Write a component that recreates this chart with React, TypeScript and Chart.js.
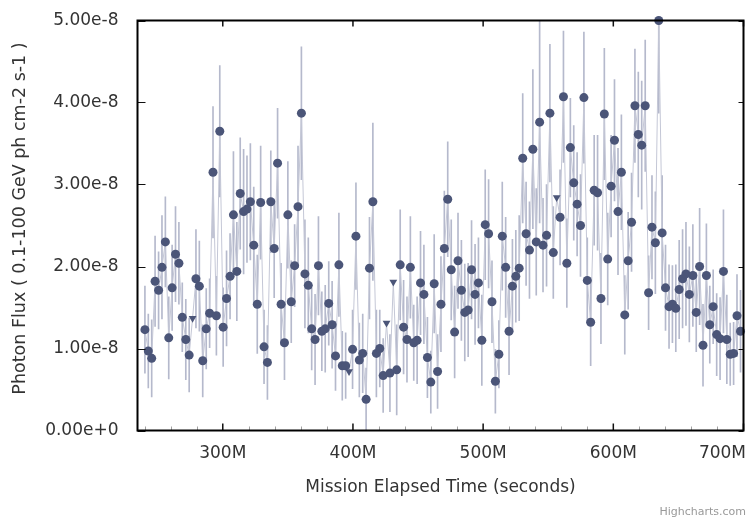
import React, { useEffect, useRef } from 'react';
import { Chart, registerables } from 'chart.js';

Chart.register(...registerables);

// Mission elapsed time of each monthly bin (millions of seconds)
const metMillions = [
  240.2, 242.8, 245.4, 248.0, 250.7, 253.3, 255.9, 258.5, 261.1, 263.7,
  266.3, 268.9, 271.6, 274.2, 276.8, 279.4, 282.0, 284.6, 287.3, 289.9,
  292.5, 295.1, 297.7, 300.3, 302.9, 305.6, 308.2, 310.8, 313.4, 316.0,
  318.6, 321.2, 323.8, 326.5, 329.1, 331.7, 334.3, 336.9, 339.5, 342.1,
  344.8, 347.4, 350.0, 352.6, 355.2, 357.8, 360.4, 363.1, 365.7, 368.3,
  370.9, 373.5, 376.1, 378.7, 381.4, 384.0, 386.6, 389.2, 391.8, 394.4,
  397.0, 399.7, 402.3, 404.9, 407.5, 410.1, 412.7, 415.3, 418.0, 420.6,
  423.2, 425.8, 428.4, 431.0, 433.6, 436.3, 438.9, 441.5, 444.1, 446.7,
  449.3, 451.9, 454.5, 457.2, 459.8, 462.4, 465.0, 467.6, 470.2, 472.8,
  475.5, 478.1, 480.7, 483.3, 485.9, 488.5, 491.1, 493.8, 496.4, 499.0,
  501.6, 504.2, 506.8, 509.4, 512.1, 514.7, 517.3, 519.9, 522.5, 525.1,
  527.7, 530.4, 533.0, 535.6, 538.2, 540.8, 543.4, 546.0, 548.7, 551.3,
  553.9, 556.5, 559.1, 561.7, 564.3, 567.0, 569.6, 572.2, 574.8, 577.4,
  580.0, 582.6, 585.3, 587.9, 590.5, 593.1, 595.7, 598.3, 600.9, 603.6,
  606.2, 608.8, 611.4, 614.0, 616.6, 619.2, 621.8, 624.5, 627.1, 629.7,
  632.3, 634.9, 637.5, 640.1, 642.8, 645.4, 648.0, 650.6, 653.2, 655.8,
  658.4, 661.1, 663.7, 666.3, 668.9, 671.5, 674.1, 676.7, 679.4, 682.0,
  684.6, 687.2, 689.8, 692.4, 695.0, 697.7,
];

// Photon flux in units of 1e-8 ph cm-2 s-1
const fluxE8 = [
  1.23, 0.97, 0.88, 1.82, 1.71, 1.99, 2.30, 1.13, 1.74, 2.15,
  2.04, 1.38, 1.11, 0.92, 1.37, 1.85, 1.76, 0.85, 1.24, 1.43,
  3.15, 1.40, 3.65, 1.26, 1.61, 1.88, 2.63, 1.94, 2.89, 2.67,
  2.70, 2.79, 2.26, 1.54, 2.78, 1.02, 0.83, 2.79, 2.22, 3.26,
  1.54, 1.07, 2.63, 1.57, 2.01, 2.73, 3.87, 1.91, 1.77, 1.24,
  1.11, 2.01, 1.21, 1.24, 1.55, 1.29, 0.91, 2.02, 0.79, 0.79,
  0.72, 0.99, 2.37, 0.86, 0.94, 0.38, 1.98, 2.79, 0.94, 1.00,
  0.67, 1.31, 0.70, 1.81, 0.74, 2.02, 1.26, 1.11, 1.99, 1.07,
  1.10, 1.80, 1.66, 0.89, 0.59, 1.79, 0.72, 1.54, 2.22, 2.82,
  1.96, 1.20, 2.07, 1.71, 1.44, 1.47, 1.96, 1.66, 1.80, 1.10,
  2.51, 2.40, 1.57, 0.60, 0.93, 2.37, 1.99, 1.21, 1.76, 1.88,
  1.98, 3.32, 2.40, 2.20, 3.43, 2.30, 3.76, 2.26, 2.38, 3.87,
  2.17, 2.84, 2.60, 4.07, 2.04, 3.45, 3.02, 2.76, 2.50, 4.06,
  1.83, 1.32, 2.93, 2.90, 1.61, 3.86, 2.09, 2.98, 3.54, 2.67,
  3.15, 1.41, 2.07, 2.54, 3.96, 3.61, 3.48, 3.96, 1.68, 2.48,
  2.29, 5.00, 2.41, 1.74, 1.51, 1.54, 1.49, 1.72, 1.85, 1.91,
  1.66, 1.89, 1.44, 2.00, 1.04, 1.89, 1.29, 1.51, 1.17, 1.12,
  1.94, 1.11, 0.93, 0.94, 1.40, 1.21,
];

// 1-sigma error (same units); 0 marks an upper limit
const errE8 = [
  0.53, 0.45, 0.47, 0.55, 0.47, 0.63, 0.55, 0.50, 0.52, 0.58,
  0.50, 0.42, 0.49, 0.45, 0, 0.60, 0.55, 0.44, 0.49, 0.42,
  0.80, 0.48, 0.80, 0.48, 0.58, 0.52, 0.77, 0.60, 0.68, 0.76,
  0.65, 0.71, 0.71, 0.60, 0.69, 0.45, 0.45, 0.62, 0.60, 0.67,
  0.50, 0.45, 0.65, 0.50, 0.50, 0.74, 0.81, 0.66, 0.58, 0.50,
  0.55, 0.60, 0.48, 0.53, 0.51, 0.53, 0.42, 0.63, 0.42, 0.40,
  0, 0.48, 0.65, 0.45, 0.48, 0.38, 0.62, 0.96, 0.53, 0.47,
  0.45, 0, 0.47, 0, 0.55, 0.67, 0.57, 0.52, 0.62, 0.46,
  0.53, 0.63, 0.60, 0.49, 0.38, 0.60, 0.45, 0.58, 0.70, 0.70,
  0.61, 0.56, 0.58, 0.61, 0.59, 0.57, 0.60, 0.61, 0.55, 0.55,
  0.67, 0.66, 0.50, 0.39, 0.41, 0.66, 0.61, 0.53, 0.57, 0.56,
  0.64, 0.79, 0.63, 0.59, 0.97, 0.65, 1.23, 0.57, 0.62, 0.84,
  0.56, 0, 0.58, 0.80, 0.54, 0.60, 0.70, 0.63, 0.62, 0.80,
  0.52, 0.53, 0.67, 0.70, 0.55, 0.80, 0.56, 0.62, 0.74, 0.77,
  0.70, 0.48, 0.59, 0.60, 0.69, 0.76, 0.78, 0.80, 0.45, 0.63,
  0.62, 1.13, 0.70, 0.52, 0.51, 0.47, 0.53, 0.60, 0.60, 0.63,
  0.58, 0.62, 0.48, 0.71, 0.50, 0.63, 0.47, 0.45, 0.50, 0.50,
  0.75, 0.54, 0.38, 0.38, 0.50, 0.50,
];

// Bins that are upper limits (drawn as down triangles)
const upperLimitIdx = [14, 60, 71, 73, 121];

const xTickValues = [300, 400, 500, 600, 700];
const yTickStep = 1e-8;
const yTitle = 'Photon Flux ( 0.1-100 GeV ph cm-2 s-1 )';
const xTitle = 'Mission Elapsed Time (seconds)';

const FONT = '"DejaVu Sans", Verdana, sans-serif';
const TEXT = '#333333';
const POINT = '#4b5578';
const ERRBAR = '#b5b9cc';
const LINE = '#c4c7d6';
const X_TICK_PAD = 13;

const framePlugin = {
  id: 'frame',
  afterDraw(chart: any) {
    const ctx: CanvasRenderingContext2D = chart.ctx;
    const a = chart.chartArea;
    const xs = chart.scales.x;
    const ys = chart.scales.y;
    const L = a.left, R = a.right, T = a.top, B = a.bottom;

    ctx.save();
    // minor ticks on bottom every 20M
    ctx.strokeStyle = '#a0a0a0';
    ctx.lineWidth = 1;
    ctx.beginPath();
    for (let v = Math.ceil(xs.min / 20) * 20; v <= xs.max; v += 20) {
      if (v % 100 === 0) continue;
      const px = Math.round(xs.getPixelForValue(v)) + 0.5;
      ctx.moveTo(px, B);
      ctx.lineTo(px, B - 4);
    }
    ctx.stroke();

    // major ticks pointing inward on all four sides
    ctx.strokeStyle = '#111111';
    ctx.lineWidth = 1.5;
    ctx.beginPath();
    for (const v of xTickValues) {
      const px = xs.getPixelForValue(v);
      ctx.moveTo(px, B);
      ctx.lineTo(px, B - 7);
      ctx.moveTo(px, T);
      ctx.lineTo(px, T + 6);
    }
    ctx.stroke();

    ctx.lineWidth = 1;
    ctx.beginPath();
    for (let v = 0; v <= 5e-8 + 1e-12; v += yTickStep) {
      const py = Math.round(ys.getPixelForValue(v)) + 0.5;
      ctx.moveTo(L, py);
      ctx.lineTo(L + 8, py);
      ctx.moveTo(R, py);
      ctx.lineTo(R - 5, py);
    }
    ctx.stroke();

    // box
    ctx.strokeStyle = '#000000';
    ctx.lineWidth = 2;
    ctx.beginPath();
    ctx.rect(L, T, R - L, B - T);
    ctx.stroke();

    // last x label justified inside the chart
    ctx.font = `17px ${FONT}`;
    ctx.fillStyle = TEXT;
    ctx.textAlign = 'right';
    ctx.textBaseline = 'middle';
    ctx.fillText('700M', chart.width - 2, xs.top + X_TICK_PAD + 10.2);

    // y axis title
    ctx.save();
    ctx.translate(20.5, 218.5);
    ctx.rotate(-Math.PI / 2);
    ctx.font = `17.5px ${FONT}`;
    ctx.textAlign = 'center';
    ctx.textBaseline = 'middle';
    ctx.fillText(yTitle, 0, 0);
    ctx.restore();

    // credits
    ctx.font = `11px ${FONT}`;
    ctx.fillStyle = '#999999';
    ctx.textAlign = 'right';
    ctx.textBaseline = 'alphabetic';
    ctx.fillText('Highcharts.com', chart.width - 2, chart.height - 3);
    ctx.restore();
  },
};

export default function App() {
  const canvasRef = useRef<HTMLCanvasElement | null>(null);

  useEffect(() => {
    document.body.style.margin = '0';
    const canvas = canvasRef.current;
    if (!canvas) return;
    const ulSet = new Set(upperLimitIdx);
    const points = metMillions.map((t, i) => ({ x: t, y: fluxE8[i] * 1e-8 }));
    const errBars = metMillions
      .map((t, i) =>
        errE8[i] > 0
          ? { x: t, y: [(fluxE8[i] - errE8[i]) * 1e-8, (fluxE8[i] + errE8[i]) * 1e-8] }
          : null
      )
      .filter((d) => d !== null);

    const chart = new Chart(canvas, {
      type: 'line',
      data: {
        datasets: [
          {
            type: 'line',
            label: 'Flux',
            data: points as any,
            borderColor: LINE,
            borderWidth: 1,
            backgroundColor: POINT,
            pointBackgroundColor: POINT,
            pointBorderWidth: 0,
            pointRadius: 4.5,
            pointStyle: (c: any) => (ulSet.has(c.dataIndex) ? 'triangle' : 'circle'),
            pointRotation: (c: any) => (ulSet.has(c.dataIndex) ? 180 : 0),
            tension: 0,
            clip: false as any,
            order: 1,
          },
          {
            type: 'bar',
            label: 'Error',
            data: errBars as any,
            backgroundColor: ERRBAR,
            barThickness: 1,
            order: 2,
          } as any,
        ],
      },
      options: {
        responsive: false,
        animation: false,
        events: [],
        layout: { padding: { top: 20.5, right: 4.5, left: 0, bottom: 0 } },
        plugins: {
          legend: { display: false },
          tooltip: { enabled: false },
        },
        scales: {
          x: {
            type: 'linear',
            min: 234.5,
            max: 700,
            offset: false,
            grid: { display: false, drawTicks: false },
            border: { display: false },
            ticks: {
              stepSize: 100,
              includeBounds: false,
              autoSkip: false,
              maxRotation: 0,
              padding: X_TICK_PAD,
              color: TEXT,
              font: { family: FONT, size: 17 },
              callback: (v: any) => (xTickValues.includes(Number(v)) && Number(v) !== 700 ? `${v}M` : ''),
            },
            title: {
              display: true,
              text: xTitle,
              color: TEXT,
              font: { family: FONT, size: 17 },
              padding: { top: 0, bottom: 20 },
            },
            afterFit: (s: any) => {
              s.height = 87.5;
              s.paddingLeft = 0;
              s.paddingRight = 0;
            },
          },
          y: {
            type: 'linear',
            min: 0,
            max: 5e-8,
            grid: { display: false, drawTicks: false },
            border: { display: false },
            ticks: {
              stepSize: yTickStep,
              padding: 19,
              color: TEXT,
              font: { family: FONT, size: 17 },
              callback: (v: any) => Number(v).toExponential(2),
            },
            title: { display: false },
            afterFit: (s: any) => {
              s.width = 137.5;
              s.paddingTop = 0;
              s.paddingBottom = 0;
            },
          },
        },
      },
      plugins: [framePlugin],
    });
    return () => chart.destroy();
  }, []);

  return (
    <div style={{ position: 'absolute', left: 0, top: 0, width: 748, height: 518, background: '#fff' }}>
      <canvas ref={canvasRef} width={748} height={518} style={{ display: 'block' }} />
    </div>
  );
}
